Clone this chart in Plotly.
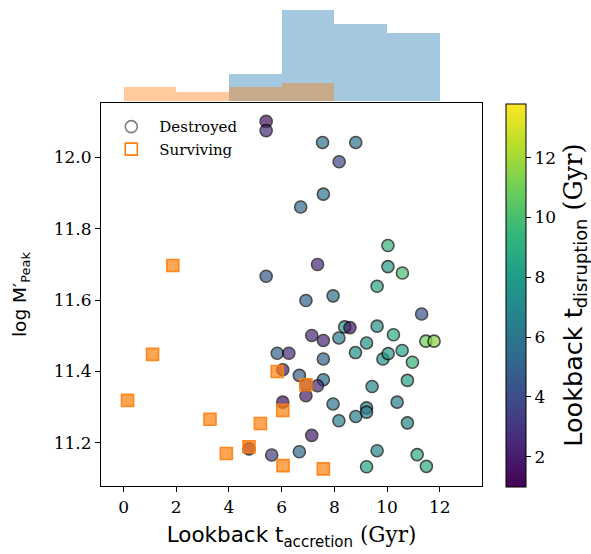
import plotly.graph_objects as go

# ---------------- data ----------------
acc_destroyed = [5.41, 5.41, 5.41, 5.83, 4.76, 5.62,
                 6.27, 6.04, 6.67, 6.04, 6.67, 7.55, 7.58, 6.72, 7.36, 6.92, 7.95, 7.14, 7.58, 7.58,
                 7.58, 7.36, 6.92, 6.92, 7.95, 7.14,
                 8.81, 8.18, 9.62, 8.39, 8.59, 9.62, 8.17, 9.22, 8.80, 9.84, 9.43, 9.22, 9.22, 8.81,
                 8.17, 9.62, 9.22,
                 10.03, 10.03, 10.58, 11.31, 10.24, 11.47, 11.78, 10.04, 10.57, 10.96, 10.77, 10.38,
                 10.77, 11.14, 11.49]
mpeak_destroyed = [12.101, 12.075, 11.667, 11.451, 11.183, 11.166,
                   11.451, 11.405, 11.389, 11.314, 11.175, 12.042, 11.897, 11.861, 11.700, 11.599,
                   11.612, 11.501, 11.487, 11.435,
                   11.377, 11.360, 11.332, 11.363, 11.309, 11.221,
                   12.042, 11.988, 11.639, 11.525, 11.523, 11.527, 11.494, 11.480, 11.453, 11.435,
                   11.358, 11.298, 11.286, 11.274, 11.262, 11.178, 11.133,
                   11.753, 11.694, 11.676, 11.561, 11.503, 11.485, 11.485, 11.450, 11.459, 11.426,
                   11.375, 11.314, 11.256, 11.167, 11.134]
tdis_destroyed = [1.5, 2.6, 4.5, 5.0, 1.5, 3.5,
                  2.5, 2.0, 5.0, 1.5, 5.5, 6.0, 6.0, 5.5, 2.5, 5.0, 5.8, 2.5, 2.3, 5.0,
                  5.5, 2.5, 2.0, 3.0, 6.0, 2.0,
                  6.0, 3.8, 8.5, 8.0, 1.5, 7.5, 6.5, 7.5, 7.5, 7.5, 7.0, 6.5, 6.5, 6.5,
                  6.5, 7.0, 8.5,
                  9.5, 8.0, 10.0, 4.5, 9.0, 11.0, 11.5, 8.0, 8.5, 9.5, 8.5, 6.5,
                  7.0, 9.0, 9.0]

acc_surviving = [0.15, 1.10, 1.87, 3.28, 3.90, 4.76, 5.19, 5.83, 6.04, 6.05, 6.92, 7.58]
mpeak_surviving = [11.319, 11.448, 11.697, 11.266, 11.170, 11.189, 11.254, 11.400,
                   11.291, 11.136, 11.363, 11.127]

x_ticks = [0, 2, 4, 6, 8, 10, 12]
y_ticks = [11.2, 11.4, 11.6, 11.8, 12.0]
cbar_ticks = [2, 4, 6, 8, 10, 12]

# ---------------- figure ----------------
W, H = 591, 554
L, R, T, B = 100.7, 108.7, 0, 67.5
ph = H - T - B
pw = W - L - R


def py(p):
    return (H - B - p) / ph


def px(p):
    return (p - L) / pw


SERIF = "DejaVu Serif"
SANS = "DejaVu Sans"
BLUE = "#1f77b4"
ORANGE = "#ff7f0e"

fig = go.Figure()

fig.add_trace(go.Histogram(x=acc_destroyed, xbins=dict(start=0, end=12, size=2),
                           marker=dict(color=BLUE, line=dict(width=0)), opacity=0.4,
                           xaxis="x2", yaxis="y2", showlegend=False, hoverinfo="skip"))
fig.add_trace(go.Histogram(x=acc_surviving, xbins=dict(start=0, end=12, size=2),
                           marker=dict(color=ORANGE, line=dict(width=0)), opacity=0.4,
                           xaxis="x2", yaxis="y2", showlegend=False, hoverinfo="skip"))

fig.add_trace(go.Scatter(
    x=acc_destroyed, y=mpeak_destroyed, mode="markers", showlegend=False,
    marker=dict(symbol="circle", size=12, color=tdis_destroyed, colorscale="Viridis",
                cmin=1.0, cmax=13.8, opacity=0.7,
                line=dict(color="black", width=1.6),
                colorbar=dict(
                    thickness=19.7, thicknessmode="pixels",
                    len=383, lenmode="pixels", xpad=0, ypad=0,
                    x=px(506), xanchor="left", xref="paper",
                    y=py(295.5), yanchor="middle", yref="paper",
                    outlinewidth=1, outlinecolor="black",
                    ticks="outside", ticklen=5, tickwidth=1, tickcolor="black",
                    tickvals=cbar_ticks, tickfont=dict(family=SERIF, size=17, color="black"),
                    title=dict(text="Lookback t<sub>disruption</sub> <span style=\"font-family:DejaVu Serif\">(Gyr)</span>",
                               side="right", font=dict(family=SANS, size=25.5, color="black")),
                )),
))

fig.add_trace(go.Scatter(
    x=acc_surviving, y=mpeak_surviving, mode="markers", showlegend=False,
    marker=dict(symbol="square", size=12, color="rgba(255,127,14,0.7)",
                line=dict(color="rgba(255,127,14,0.9)", width=1.6)),
))

# legend handles
fig.add_trace(go.Scatter(x=[None], y=[None], mode="markers", name="Destroyed",
                         marker=dict(symbol="circle-open", size=12, color="gray",
                                     line=dict(width=1.6))))
fig.add_trace(go.Scatter(x=[None], y=[None], mode="markers", name="Surviving",
                         marker=dict(symbol="square-open", size=12, color=ORANGE,
                                     line=dict(width=1.6))))

xr = [-0.856, 13.6]
fig.update_layout(
    width=W, height=H,
    margin=dict(l=L, r=R, t=T, b=B, pad=0, autoexpand=False),
    paper_bgcolor="white", plot_bgcolor="white",
    barmode="overlay", bargap=0,
    font=dict(family=SERIF, color="black"),
    xaxis=dict(domain=[0, 1], range=xr, tickvals=x_ticks, ticks="outside", ticklen=5,
               tickwidth=1, tickcolor="black", showline=True, mirror=True,
               linecolor="black", linewidth=1.2, showgrid=False, zeroline=False,
               tickfont=dict(family=SERIF, size=17),
               title=dict(text="Lookback t<sub>accretion</sub> <span style=\"font-family:DejaVu Serif\">(Gyr)</span>",
                          font=dict(family=SANS, size=21.5), standoff=11),
               anchor="y", automargin=False),
    yaxis=dict(domain=[0, py(103.3)], range=[11.079, 12.152], tickvals=y_ticks,
               tickformat=".1f", ticks="outside", ticklen=5, tickwidth=1, tickcolor="black",
               showline=True, mirror=True, linecolor="black", linewidth=1.2,
               showgrid=False, zeroline=False, tickfont=dict(family=SERIF, size=17),
               title=dict(text="log M′<sub>Peak</sub>", font=dict(family=SANS, size=18.5),
                          standoff=22),
               anchor="x", automargin=False),
    xaxis2=dict(domain=[0, 1], range=xr, visible=False, anchor="y2"),
    yaxis2=dict(domain=[py(101), 1], range=[0, 22.2], visible=False, anchor="x2"),
    legend=dict(x=px(103), xanchor="left", y=py(110.5), yanchor="top",
                bgcolor="rgba(0,0,0,0)", font=dict(family=SERIF, size=15),
                itemwidth=46, tracegroupgap=0),
)

fig.write_html("out.html", post_script="document.body.style.margin='0';",
               config={"displayModeBar": False})
